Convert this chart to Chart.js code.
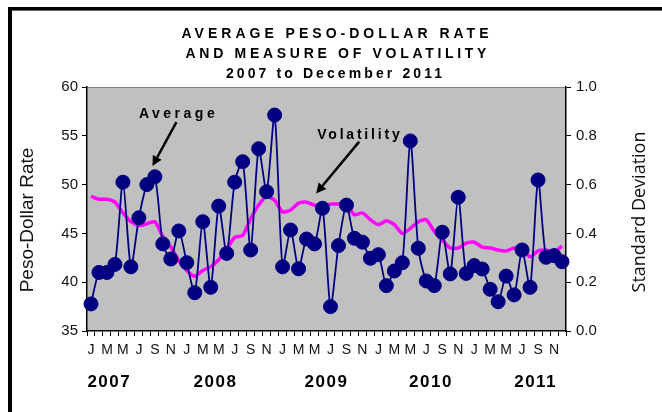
<!DOCTYPE html>
<html>
<head>
<meta charset="utf-8">
<script src="https://cdn.jsdelivr.net/npm/chart.js@4"></script>
<style>
html,body{margin:0;padding:0;background:#fff;}
#wrap{position:relative;width:662px;height:412px;}
canvas{display:block;}
</style>
</head>
<body>
<div id="wrap"><canvas id="c" width="662" height="412"></canvas></div>
<script>
// ---- data ----
const monthLetters = ['J','F','M','A','M','J','J','A','S','O','N','D'];
const years = ['2007','2008','2009','2010','2011'];
const categories = [];
years.forEach(y => monthLetters.forEach(m => categories.push(m + ' ' + y)));

// Average peso-dollar rate (left axis)
const avgRate = [
  48.8, 48.5, 48.5, 48.2, 47.1, 46.2, 45.8, 46.0, 46.2, 44.7, 43.6, 42.2,
  41.2, 40.6, 41.2, 41.6, 42.3, 43.4, 44.6, 44.8, 46.5, 47.9, 48.8, 48.4,
  47.2, 47.4, 48.1, 48.2, 47.9, 47.8, 48.0, 48.0, 48.0, 46.9, 47.1, 46.4,
  45.9, 46.3, 45.9, 45.0, 45.5, 46.2, 46.4, 45.2, 44.3, 43.5, 43.5, 44.0,
  44.1, 43.6, 43.5, 43.3, 43.2, 43.5, 43.4, 42.6, 43.2, 43.3, 43.1, 43.7
];
// Volatility, standard deviation (right axis)
const volatility = [
  0.111, 0.240, 0.240, 0.273, 0.610, 0.263, 0.464, 0.600, 0.632, 0.357, 0.295, 0.410,
  0.280, 0.157, 0.448, 0.179, 0.512, 0.318, 0.610, 0.694, 0.332, 0.747, 0.571, 0.885,
  0.263, 0.414, 0.255, 0.377, 0.357, 0.503, 0.100, 0.350, 0.516, 0.380, 0.364, 0.298,
  0.313, 0.186, 0.246, 0.280, 0.779, 0.339, 0.205, 0.186, 0.405, 0.234, 0.548, 0.236,
  0.268, 0.254, 0.171, 0.120, 0.225, 0.148, 0.332, 0.179, 0.619, 0.302, 0.309, 0.284
];
const leftTicks = [35, 40, 45, 50, 55, 60];
const rightTicks = [0.0, 0.2, 0.4, 0.6, 0.8, 1.0];

const titleLines = ['AVERAGE PESO-DOLLAR RATE', 'AND MEASURE OF VOLATILITY', '2007 to December 2011'];

// ---- helpers ----
function spacedText(ctx, text, x, y, ls) {
  ctx.letterSpacing = ls + 'px';
  ctx.textAlign = 'center';
  ctx.fillText(text, x + ls / 2, y);
  ctx.letterSpacing = '0px';
}
function arrow(ctx, x1, y1, x2, y2) {
  const ang = Math.atan2(y2 - y1, x2 - x1);
  const hl = 10, hw = 5;
  const bx = x2 - hl * Math.cos(ang), by = y2 - hl * Math.sin(ang);
  ctx.strokeStyle = '#000'; ctx.fillStyle = '#000'; ctx.lineWidth = 2.5;
  ctx.beginPath(); ctx.moveTo(x1, y1); ctx.lineTo(bx, by); ctx.stroke();
  ctx.beginPath();
  ctx.moveTo(x2, y2);
  ctx.lineTo(bx + hw * Math.sin(ang), by - hw * Math.cos(ang));
  ctx.lineTo(bx - hw * Math.sin(ang), by + hw * Math.cos(ang));
  ctx.closePath(); ctx.fill();
}

const deco = {
  id: 'deco',
  beforeDraw(chart) {
    const { ctx, chartArea: a } = chart;
    ctx.save();
    ctx.fillStyle = '#c0c0c0';
    ctx.fillRect(a.left, a.top, a.width, a.height);
    ctx.strokeStyle = '#808080'; ctx.lineWidth = 1;
    ctx.beginPath(); ctx.moveTo(a.left, a.top + 0.5); ctx.lineTo(a.right, a.top + 0.5); ctx.stroke();
    ctx.restore();
  },
  afterDraw(chart) {
    const { ctx, chartArea: a, scales } = chart;
    const xs = scales.x, ys = scales.y;
    ctx.save();
    ctx.fillStyle = '#000';
    ctx.textBaseline = 'middle';
    // title
    ctx.font = 'bold 14px "Liberation Sans", Arial, sans-serif';
    spacedText(ctx, titleLines[0], 335, 34, 4.0);
    spacedText(ctx, titleLines[1], 336, 54, 3.7);
    spacedText(ctx, titleLines[2], 334, 74, 3.1);
    // axis titles
    ctx.fillStyle = '#111';
    ctx.save();
    ctx.translate(28, 220); ctx.rotate(-Math.PI / 2);
    ctx.font = '19px "Liberation Sans", Arial, sans-serif';
    ctx.textAlign = 'center'; ctx.fillText('Peso-Dollar Rate', 0, 0);
    ctx.restore();
    ctx.save();
    ctx.translate(640, 212); ctx.rotate(-Math.PI / 2);
    ctx.font = '18px "Open Sans", sans-serif';
    ctx.textAlign = 'center'; ctx.fillText('Standard Deviation', 0, 0);
    ctx.restore();
    // year labels under the month axis
    ctx.fillStyle = '#000';
    ctx.font = 'bold 17px "Liberation Sans", Arial, sans-serif';
    const yearPos = [2.2, 15.5, 29.4, 42.5, 55.6];
    years.forEach((y, i) => spacedText(ctx, y, xs.getPixelForValue(yearPos[i]), 382, 1.5));
    // annotations
    ctx.font = 'bold 14px "Liberation Sans", Arial, sans-serif';
    spacedText(ctx, 'Average', xs.getPixelForValue(10.75), ys.getPixelForValue(57.2), 3.5);
    arrow(ctx, xs.getPixelForValue(10.7), ys.getPixelForValue(56.4), xs.getPixelForValue(7.7), ys.getPixelForValue(51.9));
    ctx.fillStyle = '#000';
    spacedText(ctx, 'Volatility', xs.getPixelForValue(33.5), ys.getPixelForValue(55.1), 2.8);
    arrow(ctx, xs.getPixelForValue(33.6), ys.getPixelForValue(54.4), xs.getPixelForValue(28.2), ys.getPixelForValue(49.1));
    // page frame (top and left)
    ctx.fillStyle = '#000';
    ctx.fillRect(8, 7, 662 - 8, 3.6);
    ctx.fillRect(8, 7, 4, 412 - 7);
    ctx.restore();
  }
};

const tickFont = { family: '"Liberation Sans", Arial, sans-serif', size: 15 };

new Chart(document.getElementById('c'), {
  type: 'line',
  data: {
    labels: categories,
    datasets: [
      {
        label: 'Volatility',
        data: volatility,
        yAxisID: 'y1',
        borderColor: '#000080',
        backgroundColor: '#000080',
        borderWidth: 1.8,
        pointRadius: 7,
        pointBorderWidth: 1,
        pointBackgroundColor: '#000080',
        pointBorderColor: '#000080',
        tension: 0.25,
        order: 1
      },
      {
        label: 'Average',
        data: avgRate,
        yAxisID: 'y',
        borderColor: '#ff00ff',
        borderWidth: 3.5,
        pointRadius: 0,
        tension: 0.2,
        order: 2
      }
    ]
  },
  options: {
    responsive: false,
    animation: false,
    layout: { padding: { top: 87, left: 0, right: 0, bottom: 0 } },
    plugins: { legend: { display: false }, tooltip: { enabled: false }, title: { display: false } },
    scales: {
      x: {
        type: 'category',
        offset: true,
        grid: { display: true, drawOnChartArea: false, offset: true, tickLength: 5, color: '#000', lineWidth: 1 },
        border: { display: true, color: '#000', width: 1.5 },
        ticks: {
          autoSkip: false, maxRotation: 0, minRotation: 0, padding: 6,
          color: '#111', font: { family: '"Liberation Sans", Arial, sans-serif', size: 14 },
          callback: (v, i) => (i % 2 === 0 ? monthLetters[i % 12] : '')
        },
        afterFit: s => { s.height = 412 - 331; }
      },
      y: {
        position: 'left',
        min: leftTicks[0], max: leftTicks[leftTicks.length - 1],
        afterBuildTicks: s => { s.ticks = leftTicks.map(v => ({ value: v })); },
        grid: { display: true, drawOnChartArea: false, tickLength: 5, color: '#000', lineWidth: 1 },
        border: { display: true, color: '#000', width: 1.5 },
        ticks: { color: '#111', font: tickFont, padding: 4, callback: v => String(v) },
        afterFit: s => { s.width = 87; }
      },
      y1: {
        position: 'right',
        min: rightTicks[0], max: rightTicks[rightTicks.length - 1],
        afterBuildTicks: s => { s.ticks = rightTicks.map(v => ({ value: v })); },
        grid: { display: true, drawOnChartArea: false, tickLength: 5, color: '#000', lineWidth: 1 },
        border: { display: true, color: '#000', width: 1.5 },
        ticks: { color: '#111', font: tickFont, padding: 5, callback: v => v.toFixed(1) },
        afterFit: s => { s.width = 662 - 566; }
      }
    }
  },
  plugins: [deco]
});
</script>
</body>
</html>
